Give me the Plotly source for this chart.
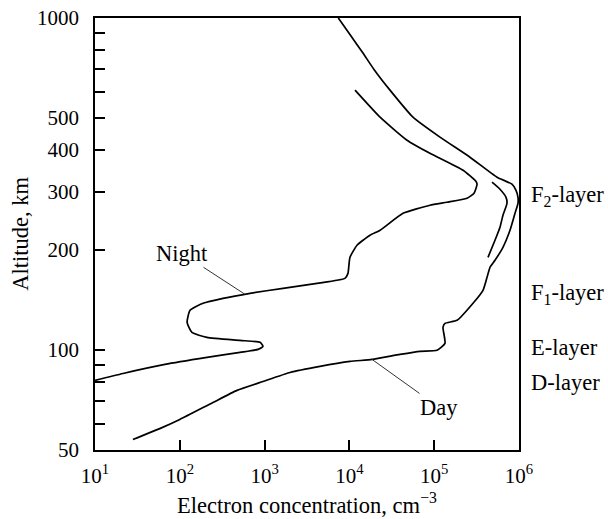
import math
import plotly.graph_objects as go

# Daytime profile: electron concentration (cm^-3) vs altitude (km)
day_n = [28, 58, 100, 246, 473, 957, 1995, 4500, 10160, 18500, 39500, 68000,
         108000, 134000, 127000, 134000, 186000, 287000, 376000, 420000, 455000,
         521000, 647000, 783000, 897000, 973000, 973000, 922000, 826000, 551000,
         264000, 117000, 56200, 30100, 19500, 14450, 10200, 7400]
day_h = [53.8, 58.0, 61.8, 69.5, 75.6, 80.4, 85.6, 89.3, 92.4, 93.7, 97.0, 99.1,
         99.8, 104.7, 117.0, 120.3, 122.9, 138.3, 151.3, 165.6, 177.5,
         186.3, 203.9, 229.5, 258.2, 276.7, 288.4, 302.8, 315.8, 331.6,
         380.9, 437.7, 502.8, 606.5, 700, 784.2, 890, 1000]

# Night-time profile
night_n = [10, 21.4, 66.8, 209, 513, 836, 957, 883, 513, 209, 139, 122, 132, 188,
           323, 673, 1650, 4150, 8870, 9620, 10160, 12300, 17500, 23000, 42900,
           89100, 141000, 244000, 295000, 320000, 310000, 219000, 89100, 47800,
           23000, 11650]
night_h = [81.0, 85.0, 90.5, 95.0, 98.4, 100.5, 102.6, 105.5, 106.9, 109.2, 113.0,
           121.2, 131.7, 138.3, 143.1, 148.2, 153.4, 158.8, 164.4, 170.2, 190.2,
           206.8, 221.6, 229.5, 258.2, 273.0, 278.7, 286.5, 296.7, 315.8, 322.5,
           348.0, 391.5, 428.6, 502.8, 606.5]

# Short additional profile segment near the F2 peak
extra_n = [481000, 597000, 703000, 722000, 647000, 597000, 521000, 431000]
extra_h = [320.3, 305.0, 288.4, 276.7, 254.6, 234.4, 214.1, 190.2]

x_tickvals = [1e1, 1e2, 1e3, 1e4, 1e5, 1e6]
x_ticktext = ["10<sup>1</sup>", "10<sup>2</sup>", "10<sup>3</sup>",
              "10<sup>4</sup>", "10<sup>5</sup>", "10<sup>6</sup>"]
y_tickvals = [50, 60, 70, 80, 90, 100, 200, 300, 400, 500, 600, 700, 800, 900, 1000]
y_ticktext = ["50", "", "", "", "", "100", "200", "300", "400", "500", "", "", "", "", "1000"]

layer_labels = ["F<sub>2</sub>-layer", "F<sub>1</sub>-layer", "E-layer", "D-layer"]
layer_alt = [292, 148, 102, 80]

night_label_point = (587, 147.2)
day_label_point = (18500, 93.7)

FONT = "Liberation Serif, Times New Roman, serif"
FS_TICK = 21
FS_TEXT = 22.5

fig = go.Figure()
for xs, ys in [(day_n, day_h), (night_n, night_h), (extra_n, extra_h)]:
    fig.add_trace(go.Scatter(x=xs, y=ys, mode="lines",
                             line=dict(color="black", width=1.7, shape="spline", smoothing=0.5),
                             showlegend=False, hoverinfo="skip"))

annotations = []
for lab, alt in zip(layer_labels, layer_alt):
    annotations.append(dict(text=lab, xref="paper", x=1.024, xanchor="left",
                            yref="y", y=math.log10(alt), yanchor="middle",
                            showarrow=False, font=dict(family=FONT, size=FS_TEXT, color="black")))

annotations.append(dict(text="Night", xref="x", yref="y",
                        x=math.log10(night_label_point[0]), y=math.log10(night_label_point[1]),
                        ax=-63, ay=-41, showarrow=True, arrowhead=0, arrowwidth=1,
                        arrowcolor="#333", font=dict(family=FONT, size=FS_TEXT, color="black")))
annotations.append(dict(text="Day", xref="x", yref="y",
                        x=math.log10(day_label_point[0]), y=math.log10(day_label_point[1]),
                        ax=67, ay=48, showarrow=True, arrowhead=0, arrowwidth=1,
                        arrowcolor="#333", font=dict(family=FONT, size=FS_TEXT, color="black")))

fig.update_layout(
    width=608, height=519,
    margin=dict(l=95, r=89, t=18, b=69, autoexpand=False),
    paper_bgcolor="white", plot_bgcolor="white",
    font=dict(family=FONT, size=FS_TICK, color="black"),
    annotations=annotations,
    xaxis=dict(type="log", range=[1, 6], tickvals=x_tickvals, ticktext=x_ticktext,
               ticks="inside", ticklen=10, tickwidth=1.5, tickcolor="black",
               showline=True, linecolor="black", linewidth=1.5, mirror=True,
               showgrid=False, zeroline=False, ticklabelstandoff=6, automargin=False,
               tickfont=dict(family=FONT, size=FS_TICK),
               title=dict(text="Electron concentration, cm<sup>\u22123</sup>",
                          font=dict(family=FONT, size=FS_TEXT), standoff=10)),
    yaxis=dict(type="log", range=[math.log10(50), 3], tickvals=y_tickvals, ticktext=y_ticktext,
               ticks="inside", ticklen=10, tickwidth=1.5, tickcolor="black",
               showline=True, linecolor="black", linewidth=1.5, mirror=True,
               showgrid=False, zeroline=False, ticklabelstandoff=10, automargin=False,
               tickfont=dict(family=FONT, size=FS_TICK),
               title=dict(text="Altitude, km", font=dict(family=FONT, size=FS_TEXT), standoff=2)),
)

fig.write_html("out.html")
